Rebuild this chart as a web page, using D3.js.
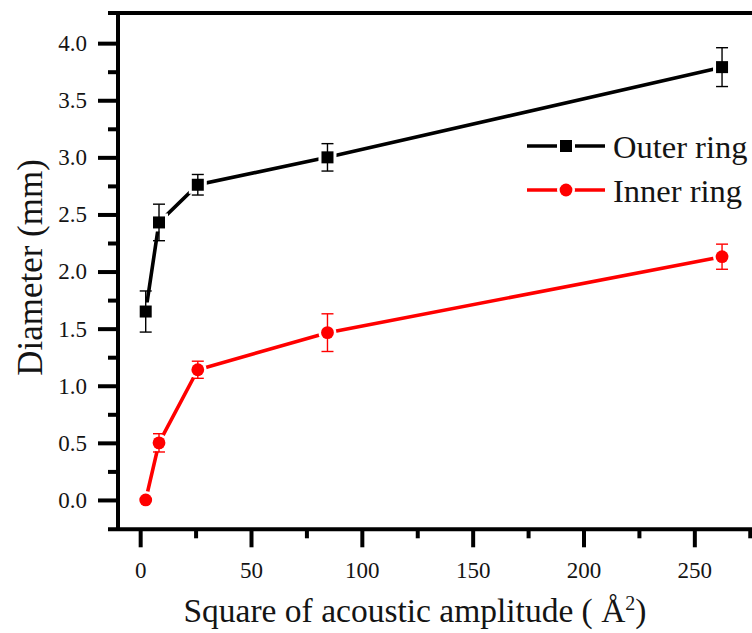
<!DOCTYPE html>
<html>
<head>
<meta charset="utf-8">
<script src="https://cdn.jsdelivr.net/npm/d3@7"></script>
<style>
  body { margin: 0; background: #fff; }
  text { font-family: "Liberation Serif", "Times New Roman", serif; fill: #141414; }
</style>
</head>
<body>
<div id="chart"></div>
<script>
// square of acoustic amplitude (x) and ring diameters (mm)
const amp2 = [2.5, 8.5, 26, 84.5, 262.5];
const outerRing = [1.65, 2.43, 2.76, 3.0, 3.79];
const outerErr = [0.18, 0.16, 0.09, 0.12, 0.17];
const innerRing = [0.0, 0.50, 1.14, 1.465, 2.13];
const innerErr = [0.0, 0.08, 0.075, 0.165, 0.11];

const xMajor = [0, 50, 100, 150, 200, 250];
const xMinor = [25, 75, 125, 175, 225, 275];
const yMajor = [0, 0.5, 1, 1.5, 2, 2.5, 3, 3.5, 4];
const yMinor = [0.25, 0.75, 1.25, 1.75, 2.25, 2.75, 3.25, 3.75];

const series = [
  { name: "Outer ring", color: "#000000", shape: "square", mean: outerRing, err: outerErr },
  { name: "Inner ring", color: "#ff0000", shape: "circle", mean: innerRing, err: innerErr }
];

const W = 752, H = 633;
const margin = { left: 118, top: 13 };
const plotW = 665, plotH = 516.3;
const serif = '"Liberation Serif", "Times New Roman", serif';

const svg = d3.select("#chart").append("svg")
    .attr("width", W).attr("height", H);

const x = d3.scaleLinear().domain([-10, 290]).range([margin.left, margin.left + plotW]);
const y = d3.scaleLinear().domain([-0.257, 4.264]).range([margin.top + plotH, margin.top]);

const bottom = margin.top + plotH;

// axes
function styleAxis(g) {
    g.attr("font-family", serif);
    g.select(".domain").remove();
    g.selectAll(".tick line").attr("stroke", "#000").attr("stroke-width", 4);
    g.selectAll(".tick text").attr("fill", "#141414")
        .style("font-family", serif).style("font-size", "23px");
}

svg.append("g")
    .attr("transform", "translate(0," + bottom + ")")
    .call(d3.axisBottom(x).tickValues(xMinor).tickSize(9).tickFormat(""))
    .call(styleAxis);

svg.append("g")
    .attr("transform", "translate(0," + bottom + ")")
    .call(d3.axisBottom(x).tickValues(xMajor).tickSize(18).tickPadding(14).tickFormat(d3.format("d")))
    .call(styleAxis);

svg.append("g")
    .attr("transform", "translate(" + margin.left + ",0)")
    .call(d3.axisLeft(y).tickValues(yMinor).tickSize(10).tickFormat(""))
    .call(styleAxis);

svg.append("g")
    .attr("transform", "translate(" + margin.left + ",0)")
    .call(d3.axisLeft(y).tickValues(yMajor).tickSize(20).tickPadding(11).tickFormat(d3.format(".1f")))
    .call(styleAxis);

// frame lines
svg.append("line").attr("x1", 108).attr("x2", margin.left + plotW)
    .attr("y1", bottom).attr("y2", bottom).attr("stroke", "#000").attr("stroke-width", 4);
svg.append("line").attr("x1", 108).attr("x2", margin.left + plotW)
    .attr("y1", margin.top).attr("y2", margin.top).attr("stroke", "#000").attr("stroke-width", 4);
svg.append("line").attr("x1", margin.left).attr("x2", margin.left)
    .attr("y1", margin.top).attr("y2", bottom).attr("stroke", "#000").attr("stroke-width", 4);

// marker helper: halo (white gap) + filled shape
function drawMarker(g, cx, cy, s, color, halo) {
    if (s.shape === "square") {
        const half = halo ? 9 : 6;
        g.append("rect").attr("x", cx - half).attr("y", cy - half)
            .attr("width", half * 2).attr("height", half * 2)
            .attr("fill", halo ? "#fff" : color);
    } else {
        g.append("circle").attr("cx", cx).attr("cy", cy)
            .attr("r", halo ? 9 : 6.4)
            .attr("fill", halo ? "#fff" : color);
    }
}

const line = d3.line()
    .x(function (d) { return x(d[0]); })
    .y(function (d) { return y(d[1]); });

series.forEach(function (s) {
    const pts = amp2.map(function (a, i) { return [a, s.mean[i], s.err[i]]; });
    const g = svg.append("g");

    g.append("path").datum(pts)
        .attr("d", line)
        .attr("fill", "none")
        .attr("stroke", s.color)
        .attr("stroke-width", 3.6);

    pts.forEach(function (p) { drawMarker(g, x(p[0]), y(p[1]), s, s.color, true); });

    // error bars
    pts.forEach(function (p) {
        if (p[2] <= 0) return;
        const cx = x(p[0]), top = y(p[1] + p[2]), bot = y(p[1] - p[2]);
        g.append("line").attr("x1", cx).attr("x2", cx).attr("y1", top).attr("y2", bot)
            .attr("stroke", s.color).attr("stroke-width", 1.4);
        [top, bot].forEach(function (yy) {
            g.append("line").attr("x1", cx - 6).attr("x2", cx + 6).attr("y1", yy).attr("y2", yy)
                .attr("stroke", s.color).attr("stroke-width", 1.4);
        });
    });

    pts.forEach(function (p) { drawMarker(g, x(p[0]), y(p[1]), s, s.color, false); });
});

// legend
const legend = svg.append("g");
series.forEach(function (s, i) {
    const ly = 146 + i * 44;
    legend.append("line").attr("x1", 527).attr("x2", 605).attr("y1", ly).attr("y2", ly)
        .attr("stroke", s.color).attr("stroke-width", 3.6);
    drawMarker(legend, 566, ly, s, s.color, true);
    drawMarker(legend, 566, ly, s, s.color, false);
    legend.append("text").attr("x", 613).attr("y", ly + 12)
        .style("font-size", "32.5px").text(s.name);
});

// axis titles
const xt = svg.append("text")
    .attr("x", 415).attr("y", 621.5)
    .attr("text-anchor", "middle")
    .style("font-size", "33.5px");
xt.append("tspan").text("Square of acoustic amplitude ( Å");
xt.append("tspan").attr("dy", -12).style("font-size", "20px").text("2");
xt.append("tspan").attr("dy", 12).text(")");

svg.append("text")
    .attr("transform", "translate(42,267.5) rotate(-90)")
    .attr("text-anchor", "middle")
    .style("font-size", "35px")
    .text("Diameter (mm)");
</script>
</body>
</html>
